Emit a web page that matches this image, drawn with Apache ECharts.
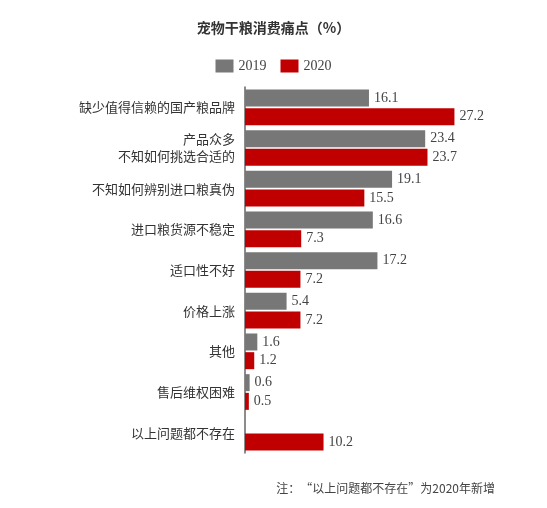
<!DOCTYPE html>
<html><head><meta charset="utf-8">
<script src="https://cdn.jsdelivr.net/npm/echarts@6/dist/echarts.min.js"></script>
<style>html,body{margin:0;padding:0;background:#fff}#c{width:547px;height:508px}</style>
</head><body><div id="c"></div>
<script>
const categories = ['缺少值得信赖的国产粮品牌','产品众多\n不知如何挑选合适的','不知如何辨别进口粮真伪','进口粮货源不稳定','适口性不好','价格上涨','其他','售后维权困难','以上问题都不存在'];
const seriesNames = ['2019','2020'];
const values2019 = [16.1,23.4,19.1,16.6,17.2,5.4,1.6,0.6,null];
const values2020 = [27.2,23.7,15.5,7.3,7.2,7.2,1.2,0.5,10.2];
const titleText = '宠物干粮消费痛点（%）';
const noteText = '注：“以上问题都不存在”为2020年新增';

const chart = echarts.init(document.getElementById('c'));
const lbl = {show:true, position:'right', distance:5, color:'#444', fontFamily:'"Liberation Serif","DejaVu Serif",serif', fontSize:14,
  formatter:p => p.value==null ? '' : Number(p.value).toFixed(1)};
chart.setOption({
  backgroundColor:'#fff',
  animation:false,
  title:{text:titleText, left:'center', top:16, textStyle:{fontFamily:'"Noto Sans CJK SC",sans-serif', fontSize:14, fontWeight:'bold', color:'#333'}},
  legend:{top:54, left:'center', icon:'rect', itemWidth:18, itemHeight:13, itemGap:14, data:seriesNames,
    textStyle:{fontFamily:'"Liberation Serif",serif', fontSize:14, color:'#444'}},
  graphic:[{type:'text', right:52, top:482, style:{text:noteText, font:'12px "Noto Sans CJK SC",sans-serif', fill:'#444'}}],
  grid:{left:245, right:71, top:87, bottom:55, containLabel:false},
  xAxis:{type:'value', min:0, max:30, show:false},
  yAxis:{type:'category', inverse:true, data:categories,
    axisLine:{show:true, lineStyle:{color:'#666', width:1.5}}, axisTick:{show:false},
    axisLabel:{margin:10, color:'#333', fontSize:13, lineHeight:17, fontFamily:'"Noto Sans CJK SC",sans-serif', align:'right'}},
  series:[
    {name:'2019', type:'bar', data:values2019, barWidth:17, barGap:'10%', itemStyle:{color:'#777777'}, label:lbl},
    {name:'2020', type:'bar', data:values2020, barWidth:17, barGap:'10%', itemStyle:{color:'#c00000'}, label:lbl}
  ]
});
</script></body></html>
